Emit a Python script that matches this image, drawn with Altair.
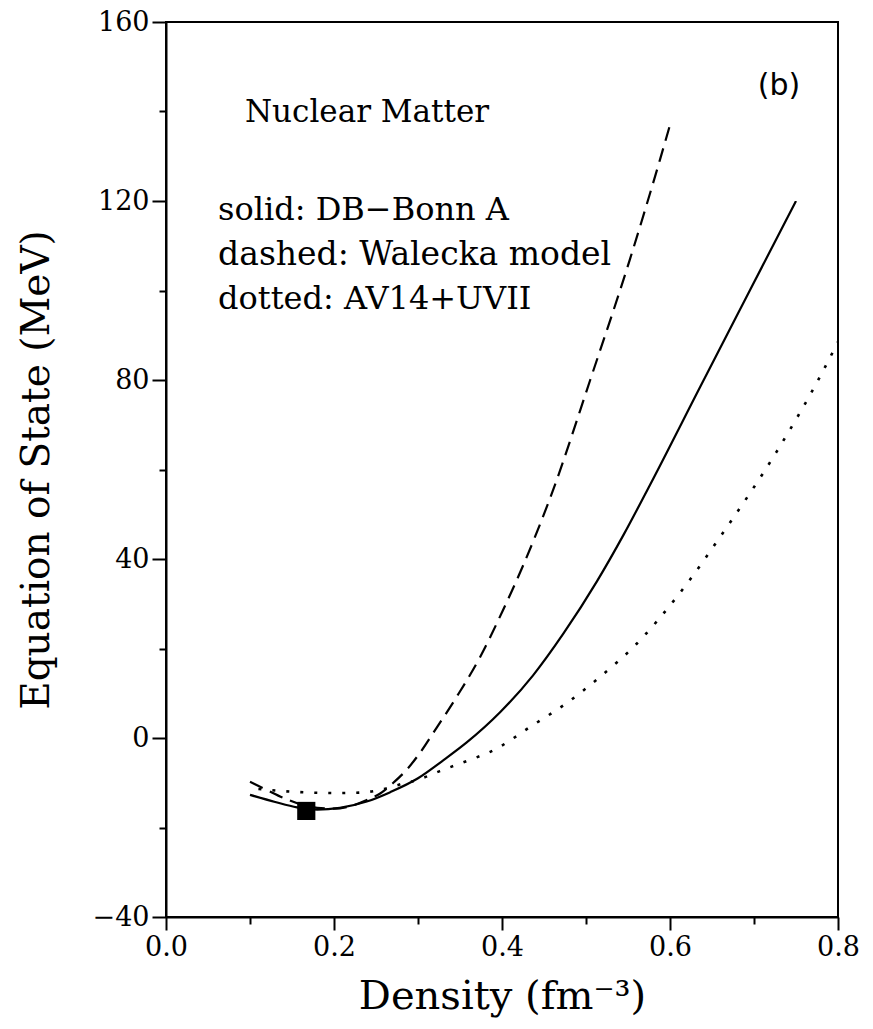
import altair as alt
import pandas as pd

# DB-Bonn A (solid)
solid_x = [0.10, 0.13, 0.156, 0.18, 0.207, 0.239, 0.267, 0.30, 0.33, 0.358, 0.398, 0.437, 0.473, 0.513, 0.545, 0.576, 0.636, 0.695, 0.75]
solid_y = [-12.7, -14.3, -15.5, -16.0, -15.6, -14.2, -12.1, -9.0, -5.0, -1.0, 5.8, 14.0, 23.3, 35.0, 45.5, 56.5, 78.5, 100.0, 120.0]

# Walecka model (dashed)
dashed_x = [0.10, 0.12, 0.14, 0.16, 0.18, 0.20, 0.22, 0.24, 0.255, 0.27, 0.286, 0.302, 0.318, 0.346, 0.374, 0.401, 0.425, 0.46, 0.505, 0.552, 0.588, 0.60]
dashed_y = [-9.8, -11.6, -13.4, -14.8, -15.6, -15.8, -15.2, -13.8, -12.4, -10.1, -7.2, -3.4, 1.1, 9.2, 18.1, 28.5, 38.5, 55.0, 80.0, 106.8, 129.2, 137.0]

# AV14+UVII (dotted)
dotted_x = [0.11, 0.15, 0.20, 0.23, 0.255, 0.28, 0.302, 0.326, 0.36, 0.386, 0.437, 0.477, 0.515, 0.56, 0.608, 0.668, 0.727, 0.775, 0.80]
dotted_y = [-11.4, -12.0, -12.3, -12.2, -11.6, -10.3, -9.2, -7.4, -5.0, -3.1, 2.9, 7.8, 13.4, 21.0, 31.5, 47.2, 64.0, 79.5, 88.5]

# saturation point
sat_x = [0.167]
sat_y = [-16.3]

# annotations
note_text = ["Nuclear Matter", "solid: DB\u2212Bonn A", "dashed: Walecka model", "dotted: AV14+UVII"]
note_size = [31, 32, 33, 32]
note_x = [0.094, 0.062, 0.062, 0.062]
note_y = [137.7, 115.8, 105.7, 95.8]
panel_text = ["(b)"]
panel_x = [0.755]
panel_y = [143.7]

x_ticks = [0.0, 0.1, 0.2, 0.3, 0.4, 0.5, 0.6, 0.7, 0.8]
y_ticks = [-40, -20, 0, 20, 40, 60, 80, 100, 120, 140, 160]

W, H = 672, 895
SERIF = "DejaVu Serif"

xscale = alt.Scale(domain=[0.0, 0.8], nice=False, zero=False)
yscale = alt.Scale(domain=[-40, 160], nice=False, zero=False)

xaxis = alt.Axis(
    values=x_ticks,
    title="Density (fm\u207b\u00b3)",
    labelExpr="round(datum.value*10) % 2 === 0 ? format(datum.value, '.1f') : ''",
    tickSize={"condition": {"test": "round(datum.value*10) % 2 === 0", "value": 13}, "value": 7},
    grid=False,
    labelFont=SERIF, titleFont=SERIF,
    labelFontSize=27, titleFontSize=40, titleFontWeight="normal",
    labelColor="black", titleColor="black",
    domainColor="black", domainWidth=2, tickColor="black", tickWidth=2,
    labelPadding=4, titlePadding=16, labelFlush=False,
)
yaxis = alt.Axis(
    values=y_ticks,
    title="Equation of State (MeV)",
    labelExpr="datum.value % 40 === 0 ? format(datum.value, 'd') : ''",
    tickSize={"condition": {"test": "datum.value % 40 === 0", "value": 14}, "value": 7},
    grid=False,
    labelFont=SERIF, titleFont=SERIF,
    labelFontSize=27, titleFontSize=39, titleFontWeight="normal",
    labelColor="black", titleColor="black",
    domainColor="black", domainWidth=2, tickColor="black", tickWidth=2,
    labelPadding=3, titlePadding=36, labelFlush=False,
)

solid_df = pd.DataFrame({"x": solid_x, "y": solid_y})
dashed_df = pd.DataFrame({"x": dashed_x, "y": dashed_y})
dotted_df = pd.DataFrame({"x": dotted_x, "y": dotted_y})
sat_df = pd.DataFrame({"x": sat_x, "y": sat_y})
note_df = pd.DataFrame({"t": note_text, "x": note_x, "y": note_y, "s": note_size})
panel_df = pd.DataFrame({"t": panel_text, "x": panel_x, "y": panel_y})

solid = alt.Chart(solid_df).mark_line(color="black", strokeWidth=2.2, interpolate="monotone").encode(
    x=alt.X("x:Q", scale=xscale, axis=xaxis),
    y=alt.Y("y:Q", scale=yscale, axis=yaxis),
)
dashed = alt.Chart(dashed_df).mark_line(color="black", strokeWidth=2.2, strokeDash=[14, 8], interpolate="monotone").encode(
    x=alt.X("x:Q", scale=xscale),
    y=alt.Y("y:Q", scale=yscale),
)
dotted = alt.Chart(dotted_df).mark_line(color="black", strokeWidth=2.6, strokeDash=[3, 11], interpolate="monotone").encode(
    x=alt.X("x:Q", scale=xscale),
    y=alt.Y("y:Q", scale=yscale),
)
sat = alt.Chart(sat_df).mark_square(color="black", opacity=1, size=330).encode(
    x=alt.X("x:Q", scale=xscale),
    y=alt.Y("y:Q", scale=yscale),
)
notes = alt.Chart(note_df).mark_text(
    align="left", baseline="alphabetic", font=SERIF, color="black"
).encode(
    x=alt.X("x:Q", scale=xscale),
    y=alt.Y("y:Q", scale=yscale),
    text="t:N",
    size=alt.Size("s:Q", scale=None, legend=None),
)
panel = alt.Chart(panel_df).mark_text(
    align="right", baseline="alphabetic", font="DejaVu Sans", fontSize=30, color="black"
).encode(
    x=alt.X("x:Q", scale=xscale),
    y=alt.Y("y:Q", scale=yscale),
    text="t:N",
)

chart = alt.layer(solid, dashed, dotted, sat, notes, panel).properties(
    width=W,
    height=H,
    background="white",
    autosize=alt.AutoSizeParams(type="none"),
    padding={"left": 166, "top": 22, "right": 35, "bottom": 112},
).configure_view(
    stroke="black", strokeWidth=2
)

chart.save("out.html", embed_options={"renderer": "svg", "actions": False})
